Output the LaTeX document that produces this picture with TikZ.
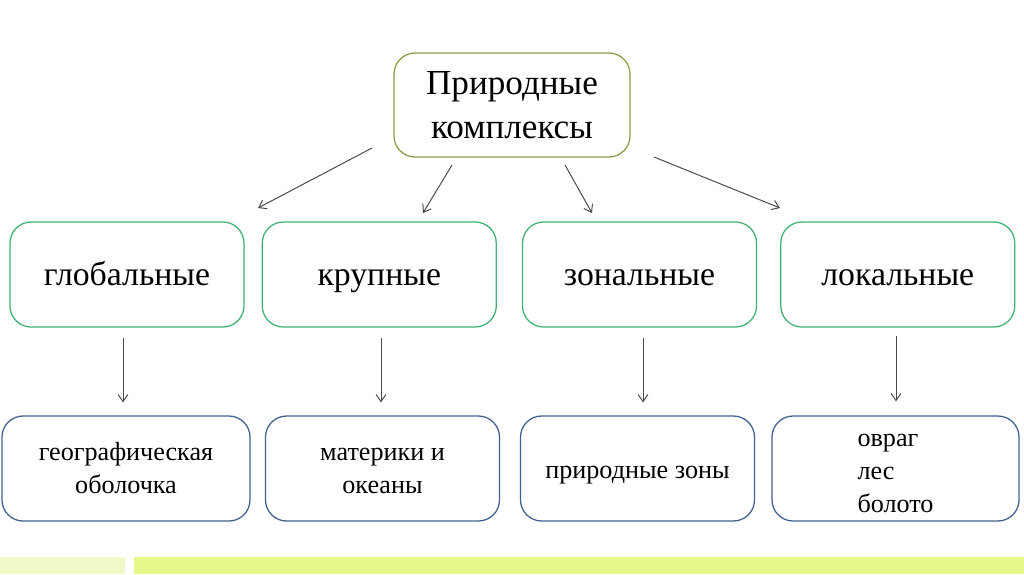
\documentclass[tikz,border=0pt]{standalone}
\usepackage{fontspec}
\setmainfont{Liberation Serif}
\usepackage{xcolor}
\usetikzlibrary{arrows.meta,positioning}

\definecolor{olivebox}{HTML}{8E9A48}
\definecolor{greenbox}{HTML}{3DB273}
\definecolor{bluebox}{HTML}{40618F}
\definecolor{arrowgray}{HTML}{4A4A4A}
\definecolor{barpale}{HTML}{F2F9C8}
\definecolor{barbright}{HTML}{E6FA8C}

\begin{document}
\begin{tikzpicture}[x=0.025cm, y=-0.025cm,
	every node/.style={rounded corners=15pt, line width=0.9pt, align=center, inner sep=0pt},
	topbox/.style={draw=olivebox, minimum width=236*0.025cm, minimum height=104*0.025cm, font=\fontsize{25}{31}\selectfont},
	midbox/.style={draw=greenbox, minimum width=234*0.025cm, minimum height=105*0.025cm, text height=16pt, text depth=1pt, font=\fontsize{24}{28}\selectfont},
	lowbox/.style={draw=bluebox, minimum width=234*0.025cm, minimum height=105*0.025cm, font=\fontsize{18.6}{23.5}\selectfont},
	link/.style={-{Straight Barb[length=5pt,width=7pt]}, draw=arrowgray, line width=0.7pt}]
	\useasboundingbox (0,0) rectangle (1024,574);
	% bars
	\fill[barpale] (0,557) rectangle (125,574);
	\fill[barbright] (134,557) rectangle (1024,574);
	% top
	\node[topbox] (root) at (512,105) {Природные\\комплексы};
	% middle row
	\node[midbox] (glob) at (127,274.5) {глобальные};
	\node[midbox, right=17*0.025cm of glob] (krup) {крупные};
	\node[midbox, right=25*0.025cm of krup] (zon) {зональные};
	\node[midbox, right=23*0.025cm of zon] (lok) {локальные};
	% bottom row
	\node[lowbox, minimum width=248*0.025cm] (geo) at (126,468.5) {географическая\\оболочка};
	\node[lowbox] (mat) at (382.5,468.5) {\vphantom{ф}материки и\\океаны};
	\node[lowbox, text height=14pt, text depth=0.5pt] (pz) at (637.5,468.5) {природные зоны};
	\node[lowbox, minimum width=247*0.025cm, text height=43.3pt, text depth=28.7pt] (ovr) at (895.5,468.5) {\begin{tabular}{@{}l@{}}овраг\\лес\\болото\end{tabular}};
	% arrow ends
	\coordinate (r1) at (372,148);
	\coordinate (r2) at (452,165);
	\coordinate (r3) at (565,165);
	\coordinate (r4) at (654,157);
	\coordinate (m1) at (258,208);
	\coordinate (m2) at (423,213);
	\coordinate (m3) at (592,213);
	\coordinate (m4) at (780,208);
	\draw[link] (r1) -- (m1);
	\draw[link] (r2) -- (m2);
	\draw[link] (r3) -- (m3);
	\draw[link] (r4) -- (m4);
	\draw[link, shorten <=10*0.025cm, shorten >=13*0.025cm] (glob.south -| 123,0) -- (geo.north -| 123,0);
	\draw[link, shorten <=10*0.025cm, shorten >=13*0.025cm] (krup.south -| 381,0) -- (mat.north -| 381,0);
	\draw[link, shorten <=10*0.025cm, shorten >=13*0.025cm] (zon.south -| 643,0) -- (pz.north -| 643,0);
	\draw[link, shorten <=8*0.025cm, shorten >=14*0.025cm] (lok.south -| 896,0) -- (ovr.north -| 896,0);
\end{tikzpicture}
\end{document}
